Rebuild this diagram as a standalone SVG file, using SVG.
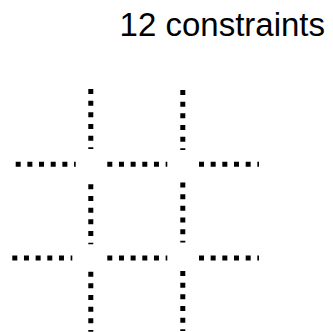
<svg xmlns="http://www.w3.org/2000/svg" width="333" height="332" viewBox="0 0 333 332">
<style>
.c{stroke:#000;stroke-width:5;stroke-dasharray:5 6.667;fill:none;stroke-linecap:butt}
.t{font-family:"Liberation Sans",Arial,sans-serif;font-size:33px;fill:#000}
</style>
<rect width="333" height="332" fill="#fff"/>
<g id="title"><text class="t" x="325" y="36" text-anchor="end">12 constraints</text></g>
<g id="connectors">
<line class="c" x1="15.7" y1="164.3" x2="75.7" y2="164.3"/>
<line class="c" x1="107.3" y1="164.3" x2="167.3" y2="164.3"/>
<line class="c" x1="199" y1="164.3" x2="259" y2="164.3"/>
<line class="c" x1="12.3" y1="258" x2="72.3" y2="258"/>
<line class="c" x1="107.3" y1="258" x2="167.3" y2="258"/>
<line class="c" x1="199" y1="258" x2="259" y2="258"/>
<line class="c" x1="90.8" y1="89" x2="90.8" y2="149"/>
<line class="c" x1="90.8" y1="184.3" x2="90.8" y2="244.3"/>
<line class="c" x1="90.8" y1="271.7" x2="90.8" y2="331.7"/>
<line class="c" x1="182.8" y1="90" x2="182.8" y2="150"/>
<line class="c" x1="182.8" y1="182.5" x2="182.8" y2="242.5"/>
<line class="c" x1="182.8" y1="271" x2="182.8" y2="331"/>
</g>
</svg>
